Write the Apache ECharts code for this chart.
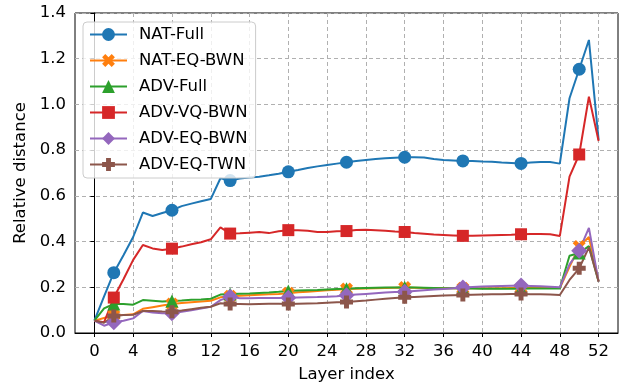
<!DOCTYPE html>
<html>
<head>
<meta charset="utf-8">
<script src="https://cdn.jsdelivr.net/npm/echarts@6/dist/echarts.min.js"></script>
<style>
html,body{margin:0;padding:0;background:#fff;}
#chart{width:624px;height:385px;}
</style>
</head>
<body>
<div id="chart"></div>
<script>
var layers = [0,1,2,3,4,5,6,7,8,9,10,11,12,13,14,15,16,17,18,19,20,21,22,23,24,25,26,27,28,29,30,31,32,33,34,35,36,37,38,39,40,41,42,43,44,45,46,47,48,49,50,51,52];
var markerLayers = [2,8,14,20,26,32,38,44,50];
var xTicks = [0,4,8,12,16,20,24,28,32,36,40,44,48,52];

var natFull = [0.054,0.16,0.264,0.34,0.42,0.527,0.512,0.525,0.537,0.555,0.566,0.576,0.586,0.677,0.667,0.676,0.680,0.684,0.690,0.697,0.705,0.713,0.722,0.729,0.735,0.741,0.747,0.752,0.757,0.761,0.764,0.767,0.769,0.769,0.768,0.761,0.757,0.755,0.753,0.752,0.750,0.749,0.746,0.744,0.742,0.746,0.748,0.748,0.741,1.027,1.154,1.282,0.845];
var natEqBwn = [0.054,0.066,0.078,0.079,0.082,0.106,0.113,0.120,0.127,0.131,0.135,0.138,0.141,0.156,0.161,0.163,0.165,0.167,0.169,0.171,0.174,0.178,0.181,0.184,0.187,0.189,0.192,0.194,0.195,0.196,0.197,0.198,0.199,0.198,0.197,0.197,0.196,0.196,0.196,0.196,0.196,0.196,0.196,0.197,0.197,0.197,0.197,0.197,0.197,0.29,0.378,0.42,0.225];
var advFull = [0.054,0.108,0.127,0.127,0.124,0.144,0.141,0.138,0.140,0.142,0.145,0.147,0.150,0.168,0.171,0.172,0.173,0.175,0.177,0.180,0.184,0.186,0.187,0.188,0.190,0.192,0.194,0.196,0.197,0.198,0.199,0.199,0.200,0.199,0.198,0.197,0.196,0.196,0.195,0.195,0.194,0.194,0.194,0.194,0.194,0.195,0.195,0.195,0.195,0.338,0.35,0.38,0.225];
var advVqBwn = [0.054,0.047,0.155,0.235,0.32,0.385,0.37,0.363,0.369,0.378,0.388,0.397,0.41,0.462,0.435,0.436,0.439,0.442,0.437,0.445,0.45,0.45,0.447,0.442,0.442,0.445,0.446,0.451,0.452,0.45,0.447,0.444,0.442,0.437,0.434,0.431,0.429,0.427,0.425,0.426,0.427,0.428,0.429,0.430,0.432,0.433,0.433,0.432,0.424,0.684,0.781,1.034,0.84];
var advEqBwn = [0.054,0.032,0.047,0.054,0.064,0.096,0.09,0.086,0.086,0.093,0.100,0.107,0.115,0.144,0.159,0.152,0.152,0.153,0.153,0.153,0.154,0.155,0.156,0.157,0.159,0.161,0.165,0.168,0.171,0.174,0.177,0.179,0.181,0.184,0.187,0.190,0.193,0.196,0.199,0.201,0.203,0.205,0.206,0.207,0.208,0.206,0.204,0.202,0.200,0.30,0.36,0.46,0.225];
var advEqTwn = [0.054,0.045,0.074,0.079,0.08,0.096,0.096,0.094,0.093,0.098,0.104,0.110,0.115,0.130,0.127,0.127,0.126,0.127,0.128,0.128,0.127,0.128,0.129,0.130,0.132,0.134,0.136,0.139,0.142,0.146,0.150,0.153,0.156,0.158,0.160,0.162,0.164,0.165,0.166,0.167,0.168,0.169,0.170,0.171,0.171,0.170,0.169,0.168,0.166,0.232,0.283,0.375,0.225];

var FONT = 'DejaVu Sans';
var xPath = 'path://M-1,-0.5 L-0.5,-1 L0,-0.5 L0.5,-1 L1,-0.5 L0.5,0 L1,0.5 L0.5,1 L0,0.5 L-0.5,1 L-1,0.5 L-0.5,0 Z';
var plusPath = 'path://M-0.38,-1 L0.38,-1 L0.38,-0.38 L1,-0.38 L1,0.38 L0.38,0.38 L0.38,1 L-0.38,1 L-0.38,0.38 L-1,0.38 L-1,-0.38 L-0.38,-0.38 Z';

function mk(name, vals, color, symbol, size) {
  return {
    name: name,
    type: 'line',
    data: layers.map(function (l, i) { return [l, vals[i]]; }),
    symbol: symbol,
    symbolSize: function (v) { return markerLayers.indexOf(v[0]) >= 0 ? size : 0; },
    showAllSymbol: true,
    lineStyle: { color: color, width: 2 },
    itemStyle: { color: color },
    emphasis: { disabled: true },
    animation: false
  };
}

var chart = echarts.init(document.getElementById('chart'), null, { renderer: 'canvas' });
chart.setOption({
  animation: false,
  backgroundColor: '#fff',
  grid: { left: 75, right: 6, top: 13, bottom: 52, show: true, borderColor: '#000', borderWidth: 1, backgroundColor: 'transparent', outerBoundsMode: 'none', containLabel: false },
  legend: {
    orient: 'vertical',
    left: 83, top: 22,
    padding: [4, 8, 5, 6],
    itemWidth: 37, itemHeight: 16, itemGap: 9,
    backgroundColor: 'rgba(255,255,255,0.8)',
    borderColor: '#cccccc', borderWidth: 1, borderRadius: 4,
    textStyle: { fontFamily: FONT, fontSize: 16.5, color: '#000', padding: [0, 0, 0, 7], lineHeight: 17 },
    data: ['NAT-Full', 'NAT-EQ-BWN', 'ADV-Full', 'ADV-VQ-BWN', 'ADV-EQ-BWN', 'ADV-EQ-TWN']
  },
  xAxis: {
    type: 'value', min: -2, max: 54,
    name: 'Layer index', nameLocation: 'middle', nameGap: 33,
    nameTextStyle: { fontFamily: FONT, fontSize: 16.5, color: '#000' },
    axisLine: { show: true, lineStyle: { color: '#000', width: 1 } },
    axisTick: { show: true, length: 4, lineStyle: { color: '#000', width: 1 }, customValues: xTicks },
    axisLabel: { fontFamily: FONT, fontSize: 16.5, color: '#000', margin: 10, customValues: xTicks },
    splitLine: { show: true, lineStyle: { color: '#b0b0b0', width: 1, type: [4, 3] } }
  },
  yAxis: {
    type: 'value', min: 0, max: 1.4, interval: 0.2,
    name: 'Relative distance', nameLocation: 'middle', nameGap: 42,
    nameTextStyle: { fontFamily: FONT, fontSize: 16.5, color: '#000' },
    axisLine: { show: true, lineStyle: { color: '#000', width: 1 } },
    axisTick: { show: true, length: 4, lineStyle: { color: '#000', width: 1 } },
    axisLabel: { fontFamily: FONT, fontSize: 16.5, color: '#000', margin: 9, formatter: function (v) { return v.toFixed(1); } },
    splitLine: { show: true, lineStyle: { color: '#b0b0b0', width: 1, type: [4, 3] } }
  },
  series: [
    mk('NAT-Full', natFull, '#1f77b4', 'circle', 13),
    mk('NAT-EQ-BWN', natEqBwn, '#ff7f0e', xPath, 13),
    mk('ADV-Full', advFull, '#2ca02c', 'triangle', 13),
    mk('ADV-VQ-BWN', advVqBwn, '#d62728', 'rect', 12),
    mk('ADV-EQ-BWN', advEqBwn, '#9467bd', 'diamond', 16),
    mk('ADV-EQ-TWN', advEqTwn, '#8c564b', plusPath, 13)
  ]
});
</script>
</body>
</html>
